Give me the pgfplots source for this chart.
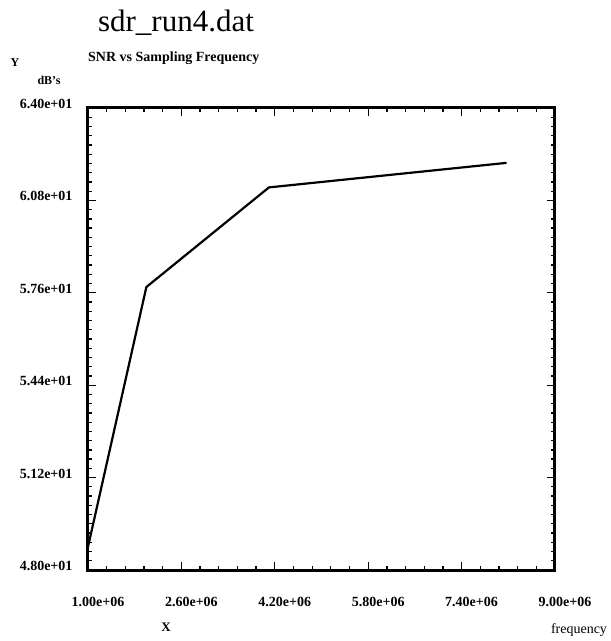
\documentclass[border=0pt]{standalone}
\usepackage{pgfplots}
\pgfplotsset{compat=1.18}
\usepackage{fontspec}
\setmainfont{Liberation Serif}
\begin{document}
\begin{tikzpicture}[x=1pt,y=1pt]
\useasboundingbox (0,0) rectangle (611,641);
\begin{axis}[
  at={(88pt,71pt)}, anchor=south west,
  scale only axis, width=467pt, height=462pt,
  xmin=1e6, xmax=9e6, ymin=48, ymax=64,
  xtick={1e6,2.6e6,4.2e6,5.8e6,7.4e6,9e6},
  xticklabels={1.00e+06,2.60e+06,4.20e+06,5.80e+06,7.40e+06,9.00e+06},
  ytick={48,51.2,54.4,57.6,60.8,64},
  yticklabels={4.80e+01,5.12e+01,5.44e+01,5.76e+01,6.08e+01,6.40e+01},
  minor x tick num=4, minor y tick num=9,
  tick align=inside,
  major tick length=8pt, minor tick length=4pt,
  axis line style={line width=3pt},
  every tick/.style={black, line width=1.3pt},
  xticklabel style={font=\fontsize{14}{16}\selectfont\bfseries, yshift=-24pt, xshift=10pt},
  yticklabel style={font=\fontsize{14}{16}\selectfont\bfseries, xshift=-12pt, yshift=4pt},
  scaled ticks=false,
]
\addplot[black, line width=2.2pt] coordinates {(1e6,48.8) (2.0e6,57.8) (4.1e6,61.25) (8.17e6,62.1)};
\end{axis}
\node[font=\fontsize{31}{34}\selectfont, anchor=base] at (176,609) {sdr\_run4.dat};
\node[font=\fontsize{14}{16}\selectfont\bfseries, anchor=west, inner sep=0pt] at (88,583) {SNR vs Sampling Frequency};
\node[font=\fontsize{12}{14}\selectfont\bfseries] at (15,578) {Y};
\node[font=\fontsize{12}{14}\selectfont\bfseries] at (49,561) {dB's};
\node[font=\fontsize{13}{15}\selectfont\bfseries] at (166,14) {X};
\node[font=\fontsize{14}{16}\selectfont] at (579,11) {frequency};
\end{tikzpicture}
\end{document}
